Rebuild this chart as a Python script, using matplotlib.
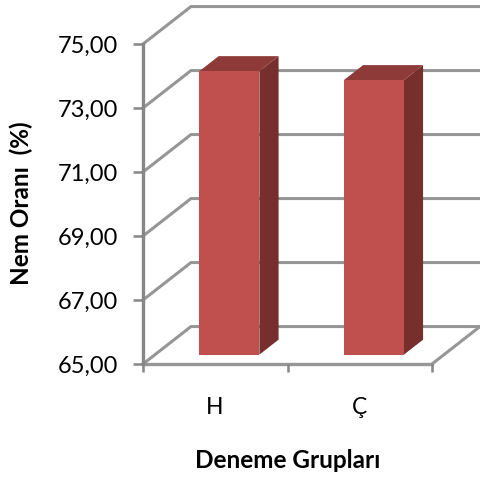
import matplotlib
matplotlib.use('Agg')
import matplotlib.pyplot as plt
from matplotlib.patches import Polygon

plt.rcParams['font.family'] = ['Lato', 'DejaVu Sans']

# Dados do grafico
categorias = ['H', 'Ç']
valores = [73.86, 73.58]
y_ticks = [65, 67, 69, 71, 73, 75]
y_labels = ['65,00', '67,00', '69,00', '71,00', '73,00', '75,00']
y_titulo = 'Nem Oranı  (%)'
x_titulo = 'Deneme Grupları'

# Estilo e pseudo 3D
COR_EIXO = '#868686'
COR_GRADE = '#969696'
COR_FRENTE = '#C0504D'
COR_LADO = '#772F2D'
COR_TOPO = '#8E3A38'
PROF_X = 0.332   # deslocamento da parede do fundo, unidades de categoria
PROF_Y = 1.17    # deslocamento da parede do fundo, unidades de y
LARGURA = 0.415
PROF_INI = 0.25
PROF_FIM = 0.65


def proj(x, y, d):
    return (x + d * PROF_X, y + d * PROF_Y)


fig = plt.figure(figsize=(4.8, 4.83), dpi=100)
ax = fig.add_axes([143 / 480, (483 - 364) / 483, 289 / 480, 320 / 483])
ax.set_xlim(0, len(categorias))
ax.set_ylim(65, 75)
ax.patch.set_visible(False)
for s in ax.spines.values():
    s.set_visible(False)

# Grade: diagonal na parede lateral e horizontal no fundo
x_fim = len(categorias) + PROF_X + 0.02
for y in y_ticks:
    p0 = proj(0, y, 0)
    p1 = proj(0, y, 1)
    ax.plot([p0[0], p1[0], x_fim], [p0[1], p1[1], p1[1]], color=COR_GRADE, lw=2.2,
            clip_on=False, zorder=1, solid_joinstyle='miter')

# Piso
p0 = proj(len(categorias), 65, 0)
p1 = proj(len(categorias), 65, 1)
ax.plot([p0[0], p1[0]], [p0[1], p1[1]], color=COR_GRADE, lw=2.2, clip_on=False, zorder=1)
ax.plot([0, len(categorias)], [65, 65], color=COR_GRADE, lw=2.4, clip_on=False, zorder=1.5)
ax.plot([0, 0], [65, 75], color=COR_EIXO, lw=2.4, clip_on=False, zorder=1.5)

# Barras
for i, v in enumerate(valores):
    x0 = i + 0.5 - LARGURA / 2 + 0.015
    x1 = x0 + LARGURA
    frente = [proj(x0, 65, PROF_INI), proj(x1, 65, PROF_INI), proj(x1, v, PROF_INI), proj(x0, v, PROF_INI)]
    lado = [proj(x1, 65, PROF_INI), proj(x1, 65, PROF_FIM), proj(x1, v, PROF_FIM), proj(x1, v, PROF_INI)]
    topo = [proj(x0, v, PROF_INI), proj(x1, v, PROF_INI), proj(x1, v, PROF_FIM), proj(x0, v, PROF_FIM)]
    ax.add_patch(Polygon(lado, closed=True, fc=COR_LADO, ec='none', clip_on=False, zorder=3))
    ax.add_patch(Polygon(topo, closed=True, fc=COR_TOPO, ec='none', clip_on=False, zorder=3))
    ax.add_patch(Polygon(frente, closed=True, fc=COR_FRENTE, ec='none', clip_on=False, zorder=4))

# Eixos
ax.set_yticks(y_ticks)
ax.set_yticklabels(y_labels, fontsize=17, color='black')
ax.set_xticks(range(len(categorias) + 1))
ax.set_xticklabels([])
ax.tick_params(axis='y', length=7, width=1.8, color=COR_EIXO, pad=11)
ax.tick_params(axis='x', length=6, width=1.8, color=COR_EIXO)

for i, c in enumerate(categorias):
    ax.annotate(c, xy=(i + 0.5, 65), xycoords='data', xytext=(-0.5, -31), textcoords='offset points',
                ha='center', va='center', fontsize=16.5, color='black', annotation_clip=False)

fig.text(21 / 480, 1 - 203.5 / 483, y_titulo, rotation=90, ha='center', va='center',
         fontsize=17.5, fontweight='bold')
fig.text(287.5 / 480, 1 - 461 / 483, x_titulo, ha='center', va='center',
         fontsize=17.5, fontweight='bold')

fig.savefig('out.png', dpi=100, facecolor='white')
plt.close(fig)
